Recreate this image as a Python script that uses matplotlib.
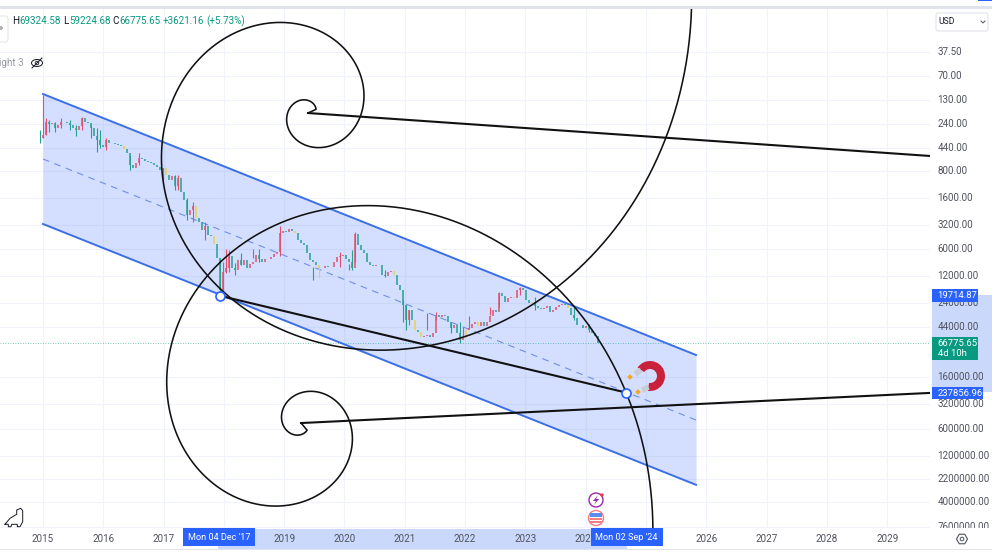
import numpy as np
import matplotlib
matplotlib.use("Agg")
import matplotlib.pyplot as plt
from matplotlib.patches import Rectangle, FancyBboxPatch, Circle, Wedge, Ellipse, Polygon, RegularPolygon

plt.rcParams["font.family"] = ["Roboto", "DejaVu Sans"]

# axis labels
year_ticks = [2015, 2016, 2017, 2019, 2020, 2021, 2022, 2023, 2024, 2026, 2027, 2028, 2029]
grid_years = [2015, 2016, 2017, 2018, 2019, 2020, 2021, 2022, 2023, 2024, 2025, 2026, 2027, 2028, 2029]
price_ticks = [37.5, 70, 130, 240, 440, 800, 1600, 3200, 6000, 12000, 24000, 44000, 160000,
               320000, 600000, 1200000, 2200000, 4000000, 7600000]

# candle closes, one bar every 0.04975 year from 2014.95
closes = [342, 317, 227, 239, 233, 265, 245, 227, 227, 233, 245, 265, 279, 252, 205, 227, 233, 265, 325, 360,
          410, 430, 360, 389, 389, 399, 410, 420, 454, 503, 685, 740, 651, 572, 587, 618, 634, 651, 685, 721,
          778, 740, 886, 1006, 909, 1175, 957, 1372, 1683, 2475, 2177, 1965, 2675, 2963, 3640, 3285, 4140, 4250, 5220, 7480,
          17030, 10720, 9680, 7105, 9680, 10190, 7875, 8955, 7875, 9680, 8730, 8290, 6925, 7680, 8290, 7680, 7680, 7290, 6750, 6410,
          3930, 3740, 3830, 3550, 3740, 3930, 4710, 5090, 5355, 6580, 7875, 8290, 8955, 9680, 9680, 9190, 9430, 9430, 8290, 7290,
          7105, 6925, 7680, 8290, 9680, 4035, 5355, 6090, 6580, 8290, 8955, 9190, 8955, 8955, 11580, 11880, 10720, 10450, 11580, 14970,
          17030, 25030, 36820, 28470, 36820, 47600, 50100, 56950, 55500, 54100, 56950, 51400, 32370, 34090, 32370, 33200, 38750, 45200, 41860, 51400,
          61500, 58450, 47600, 45200, 40800, 38750, 42970, 38750, 42970, 38750, 33200, 28470, 29970, 18390, 19880, 23170, 20930, 20400, 20930, 17030,
          16160, 17030, 22020, 23780, 23170, 25680, 27070, 27780, 27070, 25680, 29970, 28470, 26370, 25030, 24400, 25030, 27070, 32370, 34950, 41860,
          41860, 45200, 42970, 47600, 51400, 55500, 66775.65]
# wicks that stick out far enough to read
wick_bars = [0, 1, 2, 3, 5, 7, 10, 12, 14, 17, 19, 20, 22, 30, 33, 41, 45, 46, 49, 51, 55, 60, 61, 62, 63, 65, 67, 71, 73,
             80, 91, 93, 100, 103, 104, 105, 115, 121, 122, 123, 129, 132, 137, 140, 141, 143, 150, 153, 160, 165, 178, 183]
wick_tops = [279, 113, 205, 215, 227, 205, 215, 245, 198, 245, 265, 279, 342, 530, 503, 740, 886, 886, 1600, 1760, 2963,
             7480, 8290, 5860, 6090, 8500, 6580, 5860, 5860, 3285, 9430, 9430, 6410, 8730, 6090, 3830, 10190, 22020, 25030,
             28470, 31000, 29970, 40000, 38750, 44000, 33200, 26370, 18000, 15800, 20400, 26370, 40800]
wick_bottoms = [389, 342, 317, 293, 293, 265, 279, 325, 279, 342, 490, 440, 466, 778, 685, 1006, 1300, 1300, 2816, 2963, 4710,
                19714, 17700, 10990, 10720, 11580, 8955, 7480, 8290, 7105, 13170, 12400, 9430, 10190, 10190, 8290, 12200, 38800, 47600,
                41860, 47600, 36820, 51400, 66000, 56950, 45200, 32370, 26370, 19370, 28470, 36820, 50100]
yellow_bars = [28, 42, 52, 58, 85, 93, 118, 125, 127, 142, 146, 158, 164, 176, 180]

# channel: start and end of the three parallel lines
channel_years = [2015.0, 2025.83]
channel_top = [110.4, 90570]
channel_mid = [587, 482000]
channel_bottom = [3121, 2550000]

# fib spirals and their straight rays
center_a = (2019.395, 180)
anchor_a = (2017.93, 19714.87)
ray_a_end = (2029.71, 543)
center_b = (2019.28, 520500)
anchor_b = (2024.67, 237856.96)
ray_b_end = (2029.71, 240000)

last_price = 66775.65

PX_YEAR = 60.3
PX_LN = 38.9
PHI = (1 + 5 ** 0.5) / 2


def px_to_year(px):
    return 2015 + (px - 43) / PX_YEAR


def px_to_price(py):
    return 37.5 * np.exp((py - 52) / PX_LN)


def spiral(center, anchor, rot, t_start, t_end, scale=1.0):
    # log spiral, round on screen so it is worked out in pixel units
    cx, cy = center[0] * PX_YEAR, -np.log(center[1]) * PX_LN
    ax_, ay_ = anchor[0] * PX_YEAR, -np.log(anchor[1]) * PX_LN
    r0 = np.hypot(ax_ - cx, ay_ - cy) * scale
    a0 = np.arctan2(ay_ - cy, ax_ - cx)
    t = np.radians(np.linspace(t_start, t_end, 1500))
    r = r0 * PHI ** (t / (np.pi / 2))
    xs = (cx + r * np.cos(a0 + rot * t)) / PX_YEAR
    ys = np.exp(-(cy + r * np.sin(a0 + rot * t)) / PX_LN)
    xs = np.concatenate([[center[0]], xs])
    ys = np.concatenate([[center[1]], ys])
    return xs, ys


fig = plt.figure(figsize=(9.92, 5.57), dpi=100)
fig.patch.set_facecolor("white")

# main chart
ax = fig.add_axes([0, (557 - 528) / 557, 930 / 992, (528 - 9) / 557])
ax.set_xlim(px_to_year(0), px_to_year(930))
ax.set_yscale("log")
ax.set_ylim(px_to_price(528), px_to_price(9))
ax.set_xticks([])
ax.set_yticks([])
ax.minorticks_off()
for s in ax.spines.values():
    s.set_visible(False)

for y in grid_years:
    ax.axvline(y, color="#f0f3fa", lw=0.8, zorder=1)
for p in price_ticks:
    ax.axhline(p, color="#f0f3fa", lw=0.8, zorder=1)

ax.fill_between(channel_years, channel_top, channel_bottom, color="#2962ff", alpha=0.2, lw=0, zorder=2)
ax.plot(channel_years, channel_top, color="#3b6fe6", lw=1.4, zorder=3)
ax.plot(channel_years, channel_bottom, color="#3b6fe6", lw=1.4, zorder=3)
ax.plot(channel_years, channel_mid, color="#6f8fe6", lw=0.8, ls=(0, (6, 5)), zorder=3)

ax.axhline(last_price, color="#089981", lw=0.6, alpha=0.7, ls=(0, (1, 2)), zorder=3)

# candles
opens = [closes[0]] + closes[:-1]
bar_years = 2014.95 + np.arange(len(closes)) * 0.04975
bar_colors = []
for i in range(len(closes)):
    if i in yellow_bars:
        bar_colors.append("#e8d24a")
    elif closes[i] >= opens[i]:
        bar_colors.append("#26a08f")
    else:
        bar_colors.append("#e0506e")
ax.vlines(bar_years, opens, closes, colors=bar_colors, lw=1.1, zorder=4)
for b, top, bottom in zip(wick_bars, wick_tops, wick_bottoms):
    ax.vlines(bar_years[b], top, bottom, colors=bar_colors[b], lw=0.8, zorder=4)

# spirals
xa, ya = spiral(center_a, anchor_a, 1, -580, 170, scale=0.972)
xb, yb = spiral(center_b, anchor_b, -1, -665, 60)
ax.plot(xa, ya, color="#111111", lw=1.15, zorder=5)
ax.plot(xb, yb, color="#111111", lw=1.15, zorder=5)
ax.plot([center_a[0], ray_a_end[0]], [center_a[1], ray_a_end[1]], color="#111111", lw=1.5, zorder=5)
ax.plot([center_b[0], ray_b_end[0]], [center_b[1], ray_b_end[1]], color="#111111", lw=1.5, zorder=5)
ax.plot([anchor_a[0], anchor_b[0]], [anchor_a[1], anchor_b[1]], color="#111111", lw=1.5, zorder=5)
ax.plot([anchor_a[0], anchor_b[0]], [anchor_a[1], anchor_b[1]], ls="none", marker="o", ms=6.5,
        mfc="white", mec="#2962ff", mew=1.2, zorder=6)

# everything around the chart goes on a pixel overlay
ov = fig.add_axes([0, 0, 1, 1], facecolor="none")
ov.set_xlim(0, 992)
ov.set_ylim(557, 0)
ov.axis("off")

AXC = "#50535e"
BLUE = "#2962ff"
BAND = "#c9d8fb"
FS = 7.1
TAG = 6.8

ov.add_patch(Rectangle((0, 6), 992, 3, color="#e0e3eb", lw=0))
ov.add_patch(Rectangle((0, 549), 992, 1, color="#e0e3eb", lw=0))
ov.add_patch(Rectangle((978, 0), 14, 1.2, color=BLUE, lw=0))

# header
ov.text(12.5, 21, "H", color="#131722", fontsize=FS, va="center")
ov.text(19.5, 21, "69324.58", color="#089981", fontsize=FS, va="center")
ov.text(63, 21, "L", color="#131722", fontsize=FS, va="center")
ov.text(69, 21, "59224.68", color="#089981", fontsize=FS, va="center")
ov.text(112.5, 21, "C", color="#131722", fontsize=FS, va="center")
ov.text(119.5, 21, "66775.65", color="#089981", fontsize=FS, va="center")
ov.text(163, 21, "+3621.16", color="#089981", fontsize=FS, va="center")
ov.text(206, 21, "(+5.73%)", color="#089981", fontsize=FS, va="center")
ov.add_patch(FancyBboxPatch((-8, 16), 16, 26, boxstyle="round,pad=0,rounding_size=3", fc="white", ec="#e4e6ec", lw=0.8))
ov.add_patch(Circle((1, 28), 1.2, fc="white", ec="#50535e", lw=0.5))
ov.text(-1, 63, "ight 3", color="#9598a1", fontsize=FS, va="center")
ov.add_patch(Ellipse((37, 63), 11, 7, fc="none", ec="#131722", lw=0.7))
ov.add_patch(Circle((37, 63), 1.8, fc="none", ec="#131722", lw=0.6))
ov.plot([32, 42], [68, 58], color="#131722", lw=0.7)

# time axis
ov.add_patch(Rectangle((0, 528), 992, 21, color="white", lw=0, zorder=1))
ov.add_patch(Rectangle((218, 529), 409, 20, color=BAND, lw=0, zorder=1.2))
for y in year_ticks:
    ov.text(43 + (y - 2015) * PX_YEAR, 538.5, str(y), color=AXC, fontsize=FS, ha="center", va="center", zorder=1.5)
ov.add_patch(Rectangle((183, 528), 72, 18, color=BLUE, lw=0, zorder=2))
ov.text(219, 538, "Mon 04 Dec '17", color="white", fontsize=6.6, ha="center", va="center", zorder=3)
ov.add_patch(Rectangle((591, 528), 72, 18, color=BLUE, lw=0, zorder=2))
ov.text(626.5, 538, "Mon 02 Sep '24", color="white", fontsize=6.6, ha="center", va="center", zorder=3)

# price axis
ov.add_patch(Rectangle((930, 9), 62, 519, color="white", lw=0, zorder=1))
ov.add_patch(Rectangle((932, 295), 60, 97, color=BAND, lw=0, zorder=1.2))
for p in price_ticks:
    py = 52 + PX_LN * np.log(p / 37.5)
    ov.text(937.5, py, f"{p:.2f}", color=AXC, fontsize=FS, va="center", zorder=1.5)
ov.add_patch(Rectangle((930, 528), 62, 21, color="white", lw=0, zorder=1.6))
ov.add_patch(Rectangle((932, 289), 46, 13, color=BLUE, lw=0, zorder=2))
ov.text(937.5, 296, "19714.87", color="white", fontsize=TAG, va="center", zorder=3)
ov.add_patch(Rectangle((932, 337), 46, 23, color="#089981", lw=0, zorder=2))
ov.text(937.5, 343.5, "66775.65", color="white", fontsize=TAG, va="center", zorder=3)
ov.text(937.5, 353.5, "4d 10h", color="white", fontsize=TAG, va="center", zorder=3)
ov.add_patch(Rectangle((932, 387), 51, 12, color=BLUE, lw=0, zorder=2))
ov.text(937.5, 393, "237856.96", color="white", fontsize=TAG, va="center", zorder=3)

# currency box and settings
ov.add_patch(FancyBboxPatch((936, 13), 52, 18, boxstyle="round,pad=0,rounding_size=2", fc="white", ec="#e0e3eb", lw=0.8))
ov.text(938.5, 22, "USD", color="#131722", fontsize=6.2, va="center")
ov.plot([981, 983, 985], [21, 23, 21], color="#50535e", lw=0.7)
ov.add_patch(RegularPolygon((962, 539), 6, radius=5.5, fc="none", ec="#50535e", lw=0.8, orientation=np.pi / 2, zorder=3))
ov.add_patch(Circle((962, 539), 1.8, fc="none", ec="#50535e", lw=0.7, zorder=3))

# magnet
ov.add_patch(Wedge((650, 376), 15, 214, 458, width=8, color="#c9213c", lw=0, zorder=4))
ov.plot([641, 635], [370, 374], color="#c8ccd4", lw=4, solid_capstyle="butt", zorder=4)
ov.plot([648.5, 642], [387, 390], color="#c8ccd4", lw=4, solid_capstyle="butt", zorder=4)
ov.add_patch(RegularPolygon((630, 377), 4, radius=2.8, color="#f5a623", lw=0, zorder=4))
ov.add_patch(RegularPolygon((638, 392), 4, radius=2.8, color="#f5a623", lw=0, zorder=4))

# event icons
ov.add_patch(Circle((596, 500), 7, fc="white", ec="#9c27b0", lw=1, zorder=4))
ov.add_patch(Polygon([[598, 495], [593, 501], [596, 501], [594, 505], [599, 499], [596, 499]], color="#9c27b0", lw=0, zorder=5))
ov.add_patch(Circle((602, 495), 1.7, color="#f23645", lw=0, zorder=5))
ov.add_patch(Circle((596, 518), 7.5, fc="white", ec="#f77c80", lw=1, zorder=4))
ov.add_patch(Rectangle((590, 513), 12, 4, color="#5b8def", lw=0, zorder=5))
ov.add_patch(Rectangle((590, 518), 12, 1.5, color="#f77c80", lw=0, zorder=5))
ov.add_patch(Rectangle((590, 521), 12, 1.5, color="#f77c80", lw=0, zorder=5))

# dino
dino_x = [5, 10, 16.7, 16.7, 20.7, 22.7, 22.7, 20, 17.3, 17.3, 11.7, 11, 8.3, 8.3, 5]
dino_y = [524.3, 518.3, 514.3, 510, 508.3, 510.7, 521.7, 526.7, 526.7, 524.3, 524.3, 526.7, 526.7, 524.3, 524.3]
ov.plot(dino_x, dino_y, color="#131722", lw=0.7)

fig.savefig("out.png", dpi=100)
